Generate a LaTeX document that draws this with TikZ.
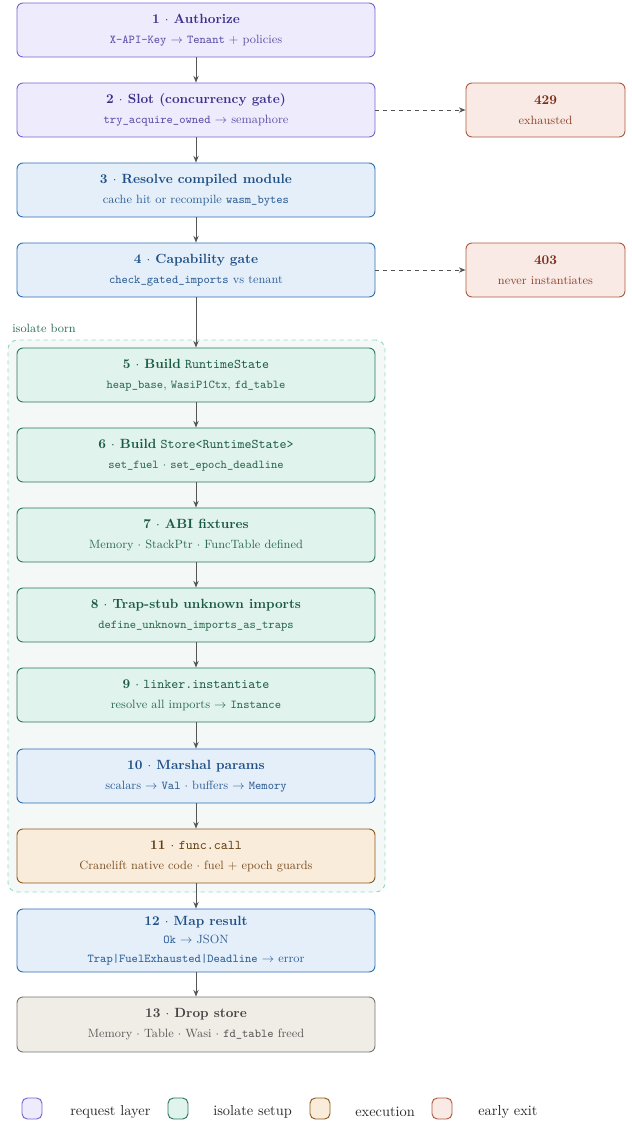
\documentclass[tikz,border=0pt]{standalone}
\usetikzlibrary{arrows.meta}
\definecolor{reqF}{HTML}{EEEBFC}
\definecolor{reqB}{HTML}{7367CF}
\definecolor{reqT}{HTML}{3C318C}
\definecolor{reqS}{HTML}{5B50A8}
\definecolor{bluF}{HTML}{E5EFFA}
\definecolor{bluB}{HTML}{2F6DB3}
\definecolor{bluT}{HTML}{1E4F86}
\definecolor{bluS}{HTML}{2F5F95}
\definecolor{grnF}{HTML}{E0F3EC}
\definecolor{grnB}{HTML}{2A7A5A}
\definecolor{grnT}{HTML}{1B5A42}
\definecolor{grnS}{HTML}{2D6B52}
\definecolor{orgF}{HTML}{FAECDA}
\definecolor{orgB}{HTML}{8E5A1E}
\definecolor{orgT}{HTML}{5E3A0D}
\definecolor{orgS}{HTML}{7A5125}
\definecolor{redF}{HTML}{F9EAE5}
\definecolor{redB}{HTML}{B0583E}
\definecolor{redT}{HTML}{7A2E1A}
\definecolor{redS}{HTML}{8E4530}
\definecolor{gryF}{HTML}{F0EDE6}
\definecolor{gryB}{HTML}{777570}
\definecolor{gryT}{HTML}{444444}
\definecolor{gryS}{HTML}{5A5A5A}
\definecolor{cntF}{HTML}{F4F8F6}
\definecolor{cntB}{HTML}{90DDC0}
\definecolor{arr}{HTML}{555555}
\tikzset{
  stepbox/.style={draw, rounded corners=4.5pt, minimum width=268.5pt, minimum height=40.5pt,
    align=center, inner sep=2pt, line width=0.7pt, font=\normalsize},
  exitbox/.style={stepbox, minimum width=119.25pt, draw=redB, fill=redF, text=redT},
  reqbox/.style={stepbox, draw=reqB, fill=reqF, text=reqT},
  blubox/.style={stepbox, draw=bluB, fill=bluF, text=bluT},
  grnbox/.style={stepbox, draw=grnB, fill=grnF, text=grnT},
  orgbox/.style={stepbox, draw=orgB, fill=orgF, text=orgT},
  grybox/.style={stepbox, draw=gryB, fill=gryF, text=gryT},
  flow/.style={draw=arr, line width=0.75pt, -{Stealth[length=5pt,width=4pt]}},
  exitflow/.style={flow, dashed},
  swatch/.style={draw, rounded corners=4pt, minimum width=15pt, minimum height=15.75pt, inner sep=0pt, line width=0.7pt},
  legtext/.style={anchor=west, font=\fontsize{10.8}{13}\selectfont, text=black!85, inner sep=0pt},
}
\newcommand{\ar}{$\rightarrow$}
\newcommand{\dt}{$\cdot$}
\begin{document}
\begin{tikzpicture}[x=0.75pt,y=-0.75pt]
\useasboundingbox (0,0) rectangle (632,1125);
% container
\node[draw=cntB, fill=cntF, dashed, rounded corners=7pt, line width=0.7pt, minimum width=282.75pt, minimum height=414pt, inner sep=0pt] (cont) at (196.5,616) {};
\node[anchor=west, font=\small, text=grnS, inner sep=0pt] (iso) at (12,328) {isolate born};

\node[reqbox] (n1) at (196,30) {\textbf{1 \dt{} Authorize}\\[3pt]{\small\color{reqS}\texttt{X-API-Key} \ar{} \texttt{Tenant} $+$ policies}};
\node[reqbox] (n2) at (196,110) {\textbf{2 \dt{} Slot (concurrency gate)}\\[3pt]{\small\color{reqS}\texttt{try\_acquire\_owned} \ar{} semaphore}};
\node[exitbox] (e429) at (545.5,110) {\textbf{429}\\[3pt]{\small\color{redS}exhausted}};
\node[blubox] (n3) at (196,190) {\textbf{3 \dt{} Resolve compiled module}\\[3pt]{\small\color{bluS}cache hit or recompile \texttt{wasm\_bytes}}};
\node[blubox] (n4) at (196,270) {\textbf{4 \dt{} Capability gate}\\[3pt]{\small\color{bluS}\texttt{check\_gated\_imports} vs tenant}};
\node[exitbox] (e403) at (545.5,270) {\textbf{403}\\[3pt]{\small\color{redS}never instantiates}};
\node[grnbox] (n5) at (196,375) {\textbf{5 \dt{} Build} \texttt{RuntimeState}\\[3pt]{\small\color{grnS}\texttt{heap\_base}, \texttt{WasiP1Ctx}, \texttt{fd\_table}}};
\node[grnbox] (n6) at (196,455) {\textbf{6 \dt{} Build} \texttt{Store<RuntimeState>}\\[3pt]{\small\color{grnS}\texttt{set\_fuel} \dt{} \texttt{set\_epoch\_deadline}}};
\node[grnbox] (n7) at (196,535) {\textbf{7 \dt{} ABI fixtures}\\[3pt]{\small\color{grnS}Memory \dt{} StackPtr \dt{} FuncTable defined}};
\node[grnbox] (n8) at (196,615) {\textbf{8 \dt{} Trap-stub unknown imports}\\[3pt]{\small\color{grnS}\texttt{define\_unknown\_imports\_as\_traps}}};
\node[grnbox] (n9) at (196,695) {\textbf{9 \dt{}} \texttt{linker.instantiate}\\[3pt]{\small\color{grnS}resolve all imports \ar{} \texttt{Instance}}};
\node[blubox] (n10) at (196,776) {\textbf{10 \dt{} Marshal params}\\[3pt]{\small\color{bluS}scalars \ar{} \texttt{Val} \dt{} buffers \ar{} \texttt{Memory}}};
\node[orgbox] (n11) at (196,856) {\textbf{11 \dt{}} \texttt{func.call}\\[3pt]{\small\color{orgS}Cranelift native code \dt{} fuel $+$ epoch guards}};
\node[blubox, minimum height=47.25pt] (n12) at (196,940.5) {\textbf{12 \dt{} Map result}\\[2pt]{\small\color{bluS}\texttt{Ok} \ar{} JSON}\\[2pt]{\small\color{bluS}\texttt{Trap|FuelExhausted|Deadline} \ar{} error}};
\node[grybox, minimum height=41.25pt] (n13) at (196,1024.5) {\textbf{13 \dt{} Drop store}\\[3pt]{\small\color{gryS}Memory \dt{} Table \dt{} Wasi \dt{} \texttt{fd\_table} freed}};

\foreach \a/\b in {n1/n2,n2/n3,n3/n4,n4/n5,n5/n6,n6/n7,n7/n8,n8/n9,n9/n10,n10/n11,n11/n12,n12/n13}
  \draw[flow] (\a) -- (\b);
\draw[exitflow] (n2) -- (e429);
\draw[exitflow] (n4) -- (e403);

% legend
\node[swatch, draw=reqB, fill=reqF] (s1) at (32,1108.5) {};
\node[legtext] (l1) at (70,1112) {request layer};
\node[swatch, draw=grnB, fill=grnF] (s2) at (178,1108.5) {};
\node[legtext] (l2) at (213,1112) {isolate setup};
\node[swatch, draw=orgB, fill=orgF] (s3) at (320,1108.5) {};
\node[legtext] (l3) at (355,1112) {execution};
\node[swatch, draw=redB, fill=redF] (s4) at (442,1108.5) {};
\node[legtext] (l4) at (478,1112) {early exit};
\end{tikzpicture}
\end{document}
